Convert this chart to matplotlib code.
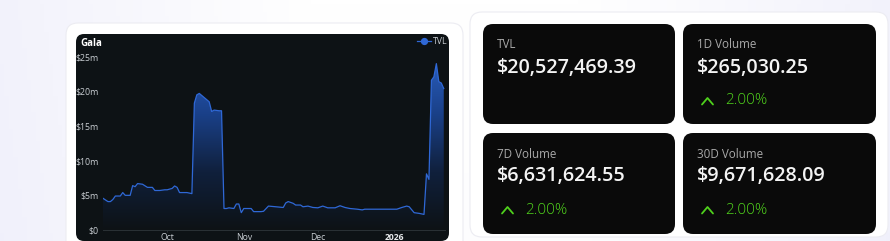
import numpy as np
import pandas as pd
import matplotlib
matplotlib.use("Agg")
import matplotlib.pyplot as plt
import matplotlib.dates as mdates
from matplotlib.patches import FancyBboxPatch, Polygon
from matplotlib.lines import Line2D
from matplotlib.colors import LinearSegmentedColormap

# ---------------- data ----------------
dates = [
    "2025-09-05", "2025-09-07", "2025-09-08", "2025-09-09", "2025-09-10", "2025-09-12",
    "2025-09-13", "2025-09-14", "2025-09-16", "2025-09-17", "2025-09-18", "2025-09-19",
    "2025-09-21", "2025-09-23", "2025-09-25", "2025-09-26", "2025-09-28", "2025-09-30",
    "2025-10-01", "2025-10-03", "2025-10-04", "2025-10-05", "2025-10-06", "2025-10-09",
    "2025-10-11", "2025-10-12", "2025-10-13", "2025-10-14", "2025-10-16", "2025-10-18",
    "2025-10-19", "2025-10-20", "2025-10-22", "2025-10-23", "2025-10-24", "2025-10-25",
    "2025-10-26", "2025-10-28", "2025-10-29", "2025-10-30", "2025-10-31", "2025-11-01",
    "2025-11-04", "2025-11-05", "2025-11-08", "2025-11-09", "2025-11-11", "2025-11-14",
    "2025-11-17", "2025-11-18", "2025-11-19", "2025-11-21", "2025-11-22", "2025-11-24",
    "2025-11-25", "2025-11-27", "2025-11-29", "2025-12-01", "2025-12-03", "2025-12-05",
    "2025-12-08", "2025-12-10", "2025-12-12", "2025-12-14", "2025-12-17", "2025-12-19",
    "2025-12-20", "2025-12-25", "2026-01-01", "2026-01-02", "2026-01-04", "2026-01-06",
    "2026-01-07", "2026-01-09", "2026-01-11", "2026-01-13", "2026-01-14", "2026-01-15",
    "2026-01-16", "2026-01-17", "2026-01-18", "2026-01-19", "2026-01-20", "2026-01-21",
]
tvl_musd = [
    4.57, 4.1, 4.1, 4.4, 4.9, 4.9,
    5.4, 5.0, 5.0, 6.4, 6.25, 6.7,
    6.6, 6.15, 6.15, 5.7, 5.7, 5.8,
    5.8, 6.0, 6.35, 6.15, 5.4, 5.4,
    5.25, 18.3, 19.5, 19.7, 19.1, 18.5,
    17.1, 17.3, 17.2, 17.2, 3.1, 3.1,
    3.2, 3.1, 3.75, 3.75, 2.5, 3.1,
    3.1, 2.65, 2.65, 2.7, 3.45, 3.35,
    3.25, 3.9, 4.1, 3.85, 3.6, 3.6,
    3.35, 3.45, 3.25, 3.2, 3.45, 3.2,
    3.2, 3.5, 3.25, 3.1, 3.0, 2.9,
    3.0, 3.0, 3.0, 3.0, 3.25, 3.45,
    3.35, 2.5, 2.4, 2.25, 8.1, 7.3,
    21.6, 22.1, 24.0, 21.4, 21.2, 20.4,
]
y_ticks = [0, 5, 10, 15, 20, 25]
y_tick_labels = ["$0", "$5m", "$10m", "$15m", "$20m", "$25m"]
x_tick_dates = ["2025-10-01", "2025-11-01", "2025-12-01", "2026-01-01"]
x_tick_labels = ["Oct", "Nov", "Dec", "2026"]
x_range = ["2025-09-05 00:00", "2026-01-21 12:00"]

chart_title = "Gala"
series_name = "TVL"

card_labels = ["TVL", "1D Volume", "7D Volume", "30D Volume"]
card_values = ["$20,527,469.39", "$265,030.25", "$6,631,624.55", "$9,671,628.09"]
card_changes = [None, "2.00%", "2.00%", "2.00%"]

# ---------------- figure ----------------
W, H = 890, 241
fig = plt.figure(figsize=(W / 100, H / 100), dpi=100)
FONT = ["Open Sans", "DejaVu Sans"]
plt.rcParams["font.family"] = FONT

# background axes in pixel coordinates
bg = fig.add_axes([0, 0, 1, 1])
bg.set_xlim(0, W)
bg.set_ylim(H, 0)
bg.axis("off")

# soft lavender background gradient
gx = np.linspace(0, 1, 200)
gy = np.linspace(0, 1, 60)
GX, GY = np.meshgrid(gx, gy)
dist = np.minimum(np.abs(GX - 0.5) * 2, 1.0)
t = np.clip((dist - 0.3) / 0.7, 0, 1) * 0.9 + 0.1 * GY
c_white = np.array([1.0, 1.0, 1.0])
c_lav = np.array([0.945, 0.945, 0.985])
img = c_white[None, None, :] * (1 - t[..., None]) + c_lav[None, None, :] * t[..., None]
bg.imshow(img, extent=[0, W, H, 0], aspect="auto", zorder=0)


def rbox(ax, x0, y0, x1, y1, r, fc, ec="none", lw=0.0, z=1):
    p = FancyBboxPatch((x0 + r, y0 + r), (x1 - x0) - 2 * r, (y1 - y0) - 2 * r,
                       boxstyle=f"round,pad={r}", fc=fc, ec=ec, lw=lw, zorder=z)
    ax.add_patch(p)
    return p


# outer panels
rbox(bg, 66, 23, 463, 260, 12, "#ffffff", ec="#ececf2", lw=0.8, z=1)
rbox(bg, 470, 12, 888, 237, 12, "#ffffff", ec="#ececf2", lw=0.8, z=1)
# dark chart card
rbox(bg, 76, 34, 449, 241, 8, "#0d1215", z=2)

# stat cards
cards = [(483, 24, 675, 124), (683, 24, 876, 124), (483, 133, 675, 234), (683, 133, 876, 234)]
for (x0, y0, x1, y1), lab, val, chg in zip(cards, card_labels, card_values, card_changes):
    rbox(bg, x0, y0, x1, y1, 10, "#0a0a0a", z=2)
    tx = x0 + 14
    bg.text(tx, y0 + 21, lab, color="#a9a9a9", fontsize=8.4, va="center", ha="left", zorder=3)
    bg.text(tx, y0 + 43.5, val, color="#f4f4f4", fontsize=14.2, fontweight="semibold",
            va="center", ha="left", zorder=3)
    if chg is not None:
        cy = y0 + 77
        bg.plot([tx + 5, tx + 10.5, tx + 16], [cy + 3.5, cy - 3, cy + 3.5],
                color="#4fd11c", lw=1.3, solid_capstyle="round", zorder=3)
        bg.text(tx + 28, cy, chg, color="#4fd11c", fontsize=11, fontweight="light",
                va="center", ha="left", zorder=3)

# ---------------- chart ----------------
ax_l, ax_r, ax_t, ax_b = 103, 445, 56.7, 230
ax = fig.add_axes([ax_l / W, 1 - ax_b / H, (ax_r - ax_l) / W, (ax_b - ax_t) / H])
ax.set_facecolor("none")
ax.patch.set_alpha(0)

d = pd.to_datetime(dates)
xv = mdates.date2num(d)
yv = np.array(tvl_musd)
x0n, x1n = mdates.date2num(pd.to_datetime(x_range, format="%Y-%m-%d %H:%M"))
ax.set_xlim(x0n, x1n)
ax.set_ylim(0, 25)

# gradient fill under the line
cmap = LinearSegmentedColormap.from_list("g", ["#0d1215", "#10203c", "#1a4088", "#2a5fc0"])
grad = np.linspace(0, 1, 256).reshape(-1, 1)
im = ax.imshow(grad, extent=[x0n, x1n, 0, 25], origin="lower", aspect="auto",
               cmap=cmap, vmin=0, vmax=1, zorder=1)
poly = Polygon(np.column_stack([np.r_[xv[0], xv, xv[-1]], np.r_[0, yv, 0]]),
               closed=True, fc="none", ec="none", transform=ax.transData)
ax.add_patch(poly)
im.set_clip_path(poly)

ax.plot(xv, yv, color="#2f68d6", lw=0.9, zorder=3, label=series_name)

for s in ["top", "right", "left"]:
    ax.spines[s].set_visible(False)
ax.spines["bottom"].set_color("#2a3136")
ax.spines["bottom"].set_linewidth(0.7)

ax.set_yticks(y_ticks)
ax.set_yticklabels(y_tick_labels)
ax.tick_params(axis="y", length=0, pad=3, labelsize=6.3, labelcolor="#c9ced3")
ax.set_xticks(mdates.date2num(pd.to_datetime(x_tick_dates)))
ax.set_xticklabels(x_tick_labels)
ax.tick_params(axis="x", length=1.5, width=0.6, color="#2a3136", pad=0.3, labelsize=6.2,
               labelcolor="#c9ced3")
for lbl in ax.get_xticklabels():
    if lbl.get_text() == "2026":
        lbl.set_fontweight("bold")
        lbl.set_color("#e8eaec")

fig.text(80 / W, 1 - 43 / H, chart_title, color="#ffffff", fontsize=7, fontweight="bold",
         ha="left", va="center")

handle = Line2D([], [], color="#2f68d6", lw=0.9, marker="o", markersize=4.2,
                markerfacecolor="#2f68d6", markeredgecolor="#2f68d6")
leg = ax.legend([handle], [series_name], loc="center right",
                bbox_to_anchor=(448 / W, 1 - 42 / H), bbox_transform=fig.transFigure,
                frameon=False, fontsize=6.3, handlelength=1.6, handletextpad=0.3,
                borderpad=0, borderaxespad=0)
for tx in leg.get_texts():
    tx.set_color("#c9ced3")

fig.savefig("out.png", dpi=100)
